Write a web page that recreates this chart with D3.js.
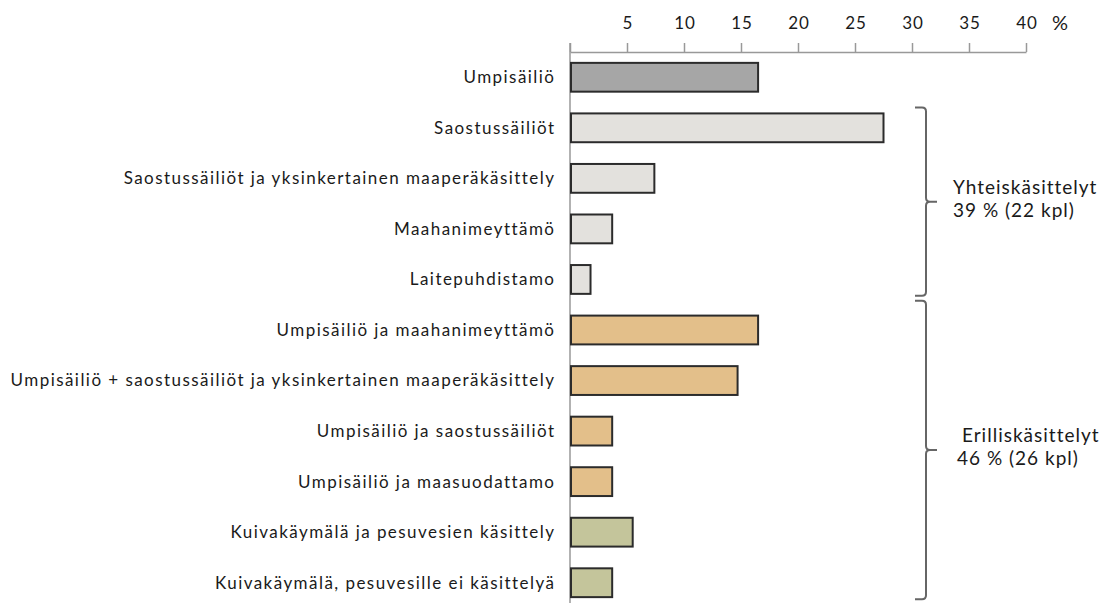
<!DOCTYPE html>
<html>
<head>
<meta charset="utf-8">
<script src="https://cdn.jsdelivr.net/npm/d3@7"></script>
<style>
  body { margin: 0; background: #fff; }
  svg { display: block; font-family: Lato, "Open Sans", sans-serif; }
</style>
</head>
<body>
<div id="chart"></div>
<script>
// Categories, top to bottom
var categories = [
    "Umpisäiliö",
    "Saostussäiliöt",
    "Saostussäiliöt ja yksinkertainen maaperäkäsittely",
    "Maahanimeyttämö",
    "Laitepuhdistamo",
    "Umpisäiliö ja maahanimeyttämö",
    "Umpisäiliö + saostussäiliöt ja yksinkertainen maaperäkäsittely",
    "Umpisäiliö ja saostussäiliöt",
    "Umpisäiliö ja maasuodattamo",
    "Kuivakäymälä ja pesuvesien käsittely",
    "Kuivakäymälä, pesuvesille ei käsittelyä"
];

// Share of systems, %
var values = [16.5, 27.5, 7.4, 3.7, 1.8, 16.5, 14.7, 3.7, 3.7, 5.5, 3.7];

// Colour group of each bar
var groups = ["umpi", "yhteis", "yhteis", "yhteis", "yhteis",
    "erillis", "erillis", "erillis", "erillis", "kuiva", "kuiva"];

var xTicks = [0, 5, 10, 15, 20, 25, 30, 35, 40];

// Brace annotations: first and last category index, two lines of text
var braceFrom = [1, 5];
var braceTo = [4, 10];
var braceLine1 = ["Yhteiskäsittelyt", "Erilliskäsittelyt"];
var braceLine2 = ["39 % (22 kpl)", "46 % (26 kpl)"];

var width = 1106, height = 603;
var labelSpacing = 1.45;

var svg = d3.select("#chart").append("svg")
    .attr("width", width)
    .attr("height", height);

var x = d3.scaleLinear()
    .domain([0, 40])
    .range([570, 1026]);

var y = d3.scaleBand()
    .domain(categories)
    .range([52, 608])
    .paddingInner(0.43)
    .paddingOuter(0.215);

var color = d3.scaleOrdinal()
    .domain(["umpi", "yhteis", "erillis", "kuiva"])
    .range(["#a6a6a6", "#e3e1dd", "#e3bf8a", "#c4c59b"]);

// Top axis with ticks pointing up
var xAxis = svg.append("g")
    .attr("transform", "translate(0,52)")
    .call(d3.axisTop(x).tickValues(xTicks).tickSize(9).tickSizeOuter(0)
        .tickFormat(function (d) { return d === 0 ? "" : d; }));

xAxis.select(".domain").attr("stroke", "#999").attr("stroke-width", 1.5);
xAxis.selectAll(".tick line").attr("stroke", "#999").attr("stroke-width", 1.5);
xAxis.selectAll(".tick text")
    .attr("y", -23)
    .attr("dx", "0.4px")
    .attr("fill", "#1a1a1a")
    .style("font-size", "17px")
    .style("letter-spacing", "0.8px")
    .style("font-family", "Lato, sans-serif");

svg.append("text")
    .attr("x", x(40) + 26)
    .attr("y", 30)
    .attr("fill", "#1a1a1a")
    .style("font-size", "20px")
    .text("%");

// Vertical axis line
svg.append("line")
    .attr("x1", x(0)).attr("x2", x(0))
    .attr("y1", 43).attr("y2", height)
    .attr("stroke", "#999")
    .attr("stroke-width", 1.5);

// Bars
svg.selectAll("rect.bar")
    .data(values)
    .enter()
    .append("rect")
    .attr("class", "bar")
    .attr("x", x(0) + 1)
    .attr("y", function (d, i) { return y(categories[i]); })
    .attr("width", function (d) { return x(d) - x(0) - 1; })
    .attr("height", y.bandwidth())
    .attr("fill", function (d, i) { return color(groups[i]); })
    .attr("stroke", "#2b2b2b")
    .attr("stroke-width", 2);

// Category labels
svg.selectAll("text.cat")
    .data(categories)
    .enter()
    .append("text")
    .attr("class", "cat")
    .attr("x", 554 + labelSpacing)
    .attr("y", function (d) { return y(d) + y.bandwidth() / 2; })
    .attr("dy", "0.35em")
    .attr("text-anchor", "end")
    .attr("fill", "#1a1a1a")
    .style("font-size", "17px")
    .style("letter-spacing", labelSpacing + "px")
    .text(function (d) { return d; });

// Curly braces on the right
var bx = 926, hook = 11, tipLen = 11, r = 4;
var prevBottom = null;
braceFrom.forEach(function (f, i) {
    var top = prevBottom === null ? y(categories[f]) - 6 : prevBottom + 5;
    var bottom = y(categories[braceTo[i]]) + y.bandwidth() + 2;
    prevBottom = bottom;
    var mid = (top + bottom) / 2;

    var p = d3.path();
    p.moveTo(bx - hook, top);
    p.lineTo(bx - r, top);
    p.quadraticCurveTo(bx, top, bx, top + r);
    p.lineTo(bx, mid - r);
    p.quadraticCurveTo(bx, mid, bx + r, mid);
    p.lineTo(bx + tipLen, mid);
    p.moveTo(bx + r, mid);
    p.quadraticCurveTo(bx, mid, bx, mid + r);
    p.lineTo(bx, bottom - r);
    p.quadraticCurveTo(bx, bottom, bx - r, bottom);
    p.lineTo(bx - hook, bottom);

    svg.append("path")
        .attr("d", p.toString())
        .attr("fill", "none")
        .attr("stroke", "#666")
        .attr("stroke-width", 2);

    var tx = i === 0 ? 953 : 957;
    svg.append("text")
        .attr("x", tx + (i === 0 ? 0 : 5))
        .attr("y", mid - 8)
        .attr("fill", "#1a1a1a")
        .style("font-size", "19px")
        .style("letter-spacing", "1px")
        .text(braceLine1[i]);
    svg.append("text")
        .attr("x", tx)
        .attr("y", mid + 15)
        .attr("fill", "#1a1a1a")
        .style("font-size", "19px")
        .style("letter-spacing", "1px")
        .text(braceLine2[i]);
});
</script>
</body>
</html>
